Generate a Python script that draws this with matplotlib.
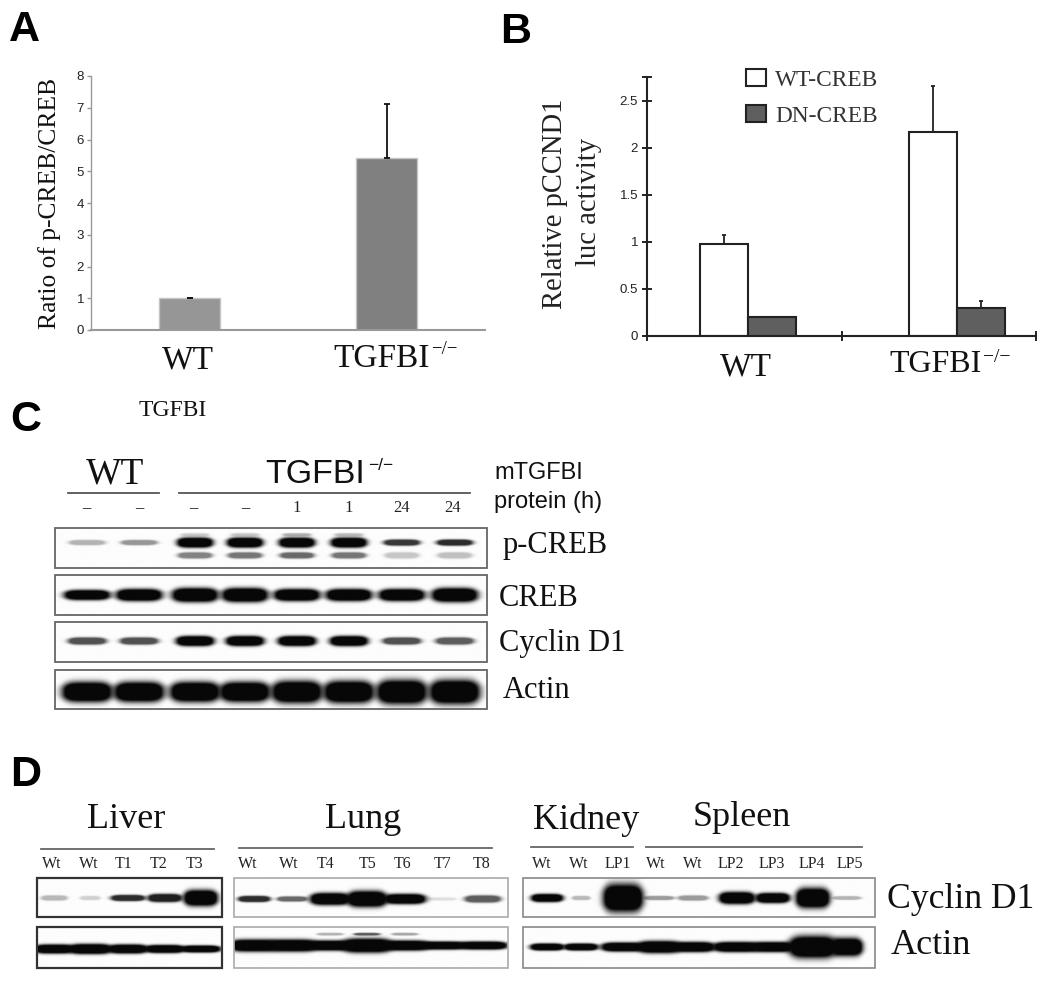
import numpy as np
import matplotlib
matplotlib.use("Agg")
import matplotlib.pyplot as plt
from matplotlib.patches import Rectangle

W, H = 1050, 982
SERIF = "Liberation Serif"
SANS = "Liberation Sans"

# panel A
a_groups = ["WT", "TGFBI"]
a_ratio = [1.0, 5.43]
a_err = [0.02, 1.70]

# panel B
b_wt_creb = [0.98, 2.17]
b_dn_creb = [0.205, 0.295]
b_wt_err = [0.09, 0.49]
b_dn_err = [0.0, 0.08]

# panel C, band strength per lane
c_times = ["–", "–", "–", "–", "1", "1", "24", "24"]
c_pcreb = [0.30, 0.42, 1.0, 1.0, 1.0, 1.0, 0.80, 0.85]
c_pcreb_low = [0.0, 0.0, 0.50, 0.55, 0.60, 0.55, 0.22, 0.25]
c_pcreb_top = [0.0, 0.0, 0.18, 0.20, 0.30, 0.25, 0.0, 0.0]
c_creb = [1.0, 1.0, 1.0, 1.0, 1.0, 1.0, 1.0, 1.0]
c_cyclin = [0.70, 0.70, 1.0, 1.0, 1.0, 1.0, 0.70, 0.65]
c_actin = [1.0, 1.0, 1.0, 1.0, 1.0, 1.0, 1.0, 1.0]

# panel D, band strength per lane
liver_labels = ["Wt", "Wt", "T1", "T2", "T3"]
liver_cyclin = [0.28, 0.18, 0.85, 0.90, 1.0]
liver_actin = [1.0, 1.0, 1.0, 1.0, 1.0]
lung_labels = ["Wt", "Wt", "T4", "T5", "T6", "T7", "T8"]
lung_cyclin = [0.85, 0.60, 1.0, 1.0, 1.0, 0.12, 0.65]
lung_actin = [1.0, 1.0, 1.0, 1.0, 1.0, 1.0, 1.0]
lung_extra = [0.0, 0.0, 0.30, 0.65, 0.35, 0.0, 0.0]
kidney_labels = ["Wt", "Wt", "LP1", "Wt", "Wt", "LP2", "LP3", "LP4", "LP5"]
kidney_cyclin = [1.0, 0.28, 1.0, 0.40, 0.40, 1.0, 1.0, 1.0, 0.30]
kidney_actin = [1.0, 1.0, 1.0, 1.0, 1.0, 1.0, 1.0, 1.0, 1.0]

# pixel layout of the lanes
c_lanes = [87, 139, 195, 245, 297, 349, 402, 455]
liver_lanes = [54, 90, 128, 165, 201]
lung_lanes = [254, 292, 330, 367, 405, 442, 483]
kidney_lanes = [547, 581, 623, 659, 693, 737, 773, 813, 847]


def axes_px(x0, y_top, x1, y_bottom):
    return fig.add_axes([x0 / W, 1 - y_bottom / H, (x1 - x0) / W, (y_bottom - y_top) / H])


def band_layer(X, Y, lanes, yc, values, half_w, half_h):
    dark = np.zeros_like(X)
    half_w = np.broadcast_to(half_w, len(lanes))
    half_h = np.broadcast_to(half_h, len(lanes))
    for cx, v, hw, hh in zip(lanes, values, half_w, half_h):
        if v <= 0:
            continue
        prof = np.exp(-np.abs((X - cx) / hw) ** 5)
        hgt = hh * (0.5 + 0.5 * np.sqrt(prof))
        core = prof * np.exp(-np.abs((Y - yc) / hgt) ** 3)
        d = v * np.clip(1.7 * core, 0, 1)
        dark = 1 - (1 - dark) * (1 - d)
    return dark


def draw_blot(box, layers, edge="#666666", lw=1.3):
    x0, y0, x1, y1 = box
    xs = np.arange(x0, x1 + 0.5, 0.5)
    ys = np.arange(y0, y1 + 0.5, 0.5)
    X, Y = np.meshgrid(xs, ys)
    light = np.ones_like(X)
    for lay in layers:
        light = light * (1 - band_layer(X, Y, *lay))
    img = 0.96 * light + 0.03
    over.imshow(img, extent=(x0, x1, y1, y0), origin="upper", cmap="gray",
                vmin=0, vmax=1, aspect="auto", interpolation="bilinear", zorder=1)
    over.add_patch(Rectangle((x0, y0), x1 - x0, y1 - y0, fill=False, ec=edge, lw=lw, zorder=2))


def txt(x, y, s, size, family=SERIF, ha="left", va="center", color="#111111", **kw):
    over.text(x, y, s, fontsize=size, family=family, ha=ha, va=va, color=color, **kw)


fig = plt.figure(figsize=(W / 100, H / 100), dpi=100)

# panel A
ax_a = axes_px(91, 76, 485, 330)
ax_a.bar(range(2), a_ratio, width=0.31, color=["#969696", "#808080"], edgecolor="#c4c4c4", linewidth=1)
ax_a.errorbar(range(2), a_ratio, yerr=[[0, 0], a_err], fmt="none", ecolor="#111111",
              elinewidth=1.3, capsize=2.5, capthick=1.3)
ax_a.set_xlim(-0.5, 1.5)
ax_a.set_ylim(0, 8)
ax_a.set_xticks([])
ax_a.set_yticks(range(9))
ax_a.tick_params(axis="y", length=3, width=1, color="#999999", labelsize=9.5, labelcolor="#222222", pad=2)
for lab in ax_a.get_yticklabels():
    lab.set_family(SANS)
ax_a.spines[["top", "right"]].set_visible(False)
ax_a.spines[["left", "bottom"]].set_color("#999999")
ax_a.spines["left"].set_linewidth(1)
ax_a.spines["bottom"].set_linewidth(1.5)

# panel B
ax_b = axes_px(647, 77, 1036, 336)
b_pos = np.array([0.519, 1.596])
b_width = 0.247
ax_b.bar(b_pos - b_width / 2, b_wt_creb, width=b_width, color="white", edgecolor="#222222",
         linewidth=1.5, label="WT-CREB")
ax_b.bar(b_pos + b_width / 2, b_dn_creb, width=b_width, color="#5f5f5f", edgecolor="#222222",
         linewidth=1.5, label="DN-CREB")
ax_b.errorbar(b_pos - b_width / 2, b_wt_creb, yerr=[[0, 0], b_wt_err], fmt="none", ecolor="#222222",
              elinewidth=1.3, capsize=1.5, capthick=1.3)
ax_b.errorbar(b_pos[1] + b_width / 2, b_dn_creb[1], yerr=[[0], [b_dn_err[1]]], fmt="none",
              ecolor="#222222", elinewidth=1.3, capsize=1.5, capthick=1.3)
ax_b.set_xlim(0, 2)
ax_b.set_ylim(0, 2.755)
ax_b.set_xticks([0, 1, 2])
ax_b.set_xticklabels([])
ax_b.set_yticks([0, 0.5, 1, 1.5, 2, 2.5, 2.755])
ax_b.set_yticklabels(["0", "0.5", "1", "1.5", "2", "2.5", ""])
ax_b.tick_params(axis="both", direction="inout", length=7, width=1.4, color="#222222")
ax_b.tick_params(axis="y", labelsize=9.5, labelcolor="#222222", pad=3)
for lab in ax_b.get_yticklabels():
    lab.set_family(SANS)
ax_b.spines[["top", "right"]].set_visible(False)
ax_b.spines[["left", "bottom"]].set_color("#222222")
ax_b.spines[["left", "bottom"]].set_linewidth(1.5)
ax_b.legend(loc="upper left", bbox_to_anchor=(746 / W, 1 - 69 / H), bbox_transform=fig.transFigure,
            frameon=False, prop={"family": SERIF, "size": 16.8}, labelcolor="#333333",
            handlelength=0.86, handleheight=0.75, handletextpad=0.38, labelspacing=0.62,
            borderpad=0, borderaxespad=0)

# pixel overlay for the blots and the loose text
over = fig.add_axes([0, 0, 1, 1], zorder=5)
over.patch.set_alpha(0)
over.axis("off")

# panel letters
for (x, y, s) in [(9, 30, "A"), (500, 32, "B"), (10, 420, "C"), (10, 775, "D")]:
    txt(x, y, s, 31, family=SANS, weight="bold", color="black")

# chart labels
txt(50, 203, "Ratio of p-CREB/CREB", 18.4, ha="center", rotation=90)
txt(555, 204, "Relative pCCND1", 20.6, ha="center", rotation=90, color="#222222")
txt(589, 202, "luc activity", 20.6, ha="center", rotation=90, color="#222222")
txt(188, 360, a_groups[0], 24, ha="center")
txt(333, 359, a_groups[1], 24)
txt(431, 349, "−/−", 13.5)
txt(746, 367, a_groups[0], 24, ha="center")
txt(889, 364, a_groups[1], 23)
txt(983, 357, "−/−", 14)
txt(139, 410, "TGFBI", 17)

# panel C
txt(86, 474, "WT", 27)
txt(265, 474, "TGFBI", 24.5, family=SANS)
txt(368, 466, "−/−", 12.5, family=SANS)
txt(494, 473, "mTGFBI", 17, family=SANS)
txt(494, 502, "protein (h)", 17, family=SANS)
over.plot([68, 159], [493, 493], color="#555555", lw=1.3)
over.plot([179, 470], [493, 493], color="#555555", lw=1.3)
for x, s in zip([86, 139, 193, 245, 297, 349, 402, 453], c_times):
    txt(x, 508, s, 12, ha="center", weight="bold" if s == "–" else "normal", color="#222222")

draw_blot((55, 528, 487, 568), [
    (c_lanes, 542.5, c_pcreb, 18, [2.5, 2.5, 5, 5, 5, 5, 3, 3]),
    (c_lanes, 555.5, c_pcreb_low, 17, 3),
    (c_lanes, 534.5, c_pcreb_top, 14, 1.5),
])
draw_blot((55, 575, 487, 615), [(c_lanes, 595, c_creb, 23, [5, 6, 7, 7, 6, 6, 6, 7])])
draw_blot((55, 622, 487, 662), [(c_lanes, 641, c_cyclin, 19, [3.5, 3.5, 5, 5, 5, 5, 3.5, 3.5])])
draw_blot((55, 670, 487, 709), [(c_lanes, 692, c_actin, 25, [10, 10, 10, 10, 11, 11, 12, 12])])

txt(503, 545, "p-CREB", 22)
txt(499, 598, "CREB", 22)
txt(499, 644, "Cyclin D1", 22)
txt(503, 691, "Actin", 22)

# panel D
txt(87, 820, "Liver", 26)
txt(325, 819, "Lung", 26)
txt(533, 820, "Kidney", 26)
txt(693, 818, "Spleen", 26)
for xa, xb, y in [(41, 214, 849), (239, 492, 848), (531, 633, 847), (646, 862, 847)]:
    over.plot([xa, xb], [y, y], color="#666666", lw=1.3)
for xs, labels in [([52, 89, 124, 159, 194], liver_labels),
                   ([248, 289, 326, 368, 403, 443, 482], lung_labels),
                   ([542, 579, 618, 656, 693, 731, 772, 812, 850], kidney_labels)]:
    for x, s in zip(xs, labels):
        txt(x, 864, s, 11.5, ha="center", color="#222222")

draw_blot((37, 878, 222, 917), [
    (liver_lanes, 898, liver_cyclin, [13, 10, 17, 17, 17], [2.5, 2, 3, 4, 8]),
], edge="#333333", lw=1.6)
draw_blot((37, 927, 222, 968), [
    (liver_lanes, 949, liver_actin, [20, 22, 20, 20, 20], [4.5, 5, 4.5, 4, 3.5]),
], edge="#333333", lw=1.6)
draw_blot((234, 878, 508, 917), [
    (lung_lanes, 899, lung_cyclin, [16, 15, 20, 20, 21, 14, 18], [3, 2.5, 6, 8, 5, 1.5, 3.5]),
], edge="#aaaaaa", lw=1.2)
draw_blot((234, 927, 508, 968), [
    (lung_lanes, 945.5, lung_actin, 25, [6, 6, 5, 7, 5, 4, 4]),
    (lung_lanes[2:5], 934, lung_extra[2:5], 13, 1.3),
], edge="#aaaaaa", lw=1.2)
draw_blot((523, 878, 875, 917), [
    (kidney_lanes, 898, kidney_cyclin,
     [16, 9, 20, 15, 15, 18, 17, 17, 14], [4, 2, 14, 2, 2.5, 6, 5, 10, 1.8]),
], edge="#888888", lw=1.2)
draw_blot((523, 927, 875, 968), [
    (kidney_lanes, 947, kidney_actin,
     [17, 17, 22, 22, 22, 24, 22, 24, 16], [3.5, 3.5, 4.5, 6, 5, 5, 5, 11, 9]),
], edge="#888888", lw=1.2)

txt(887, 899, "Cyclin D1", 25.7)
txt(891, 946, "Actin", 26)

over.set_xlim(0, W)
over.set_ylim(H, 0)

fig.savefig("out.png", dpi=100)
